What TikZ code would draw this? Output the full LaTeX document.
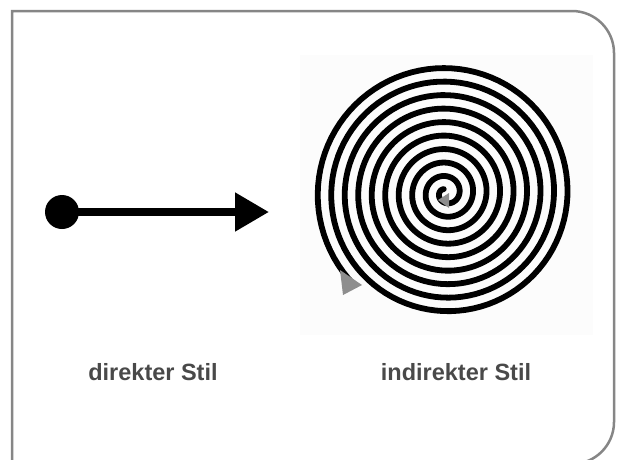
\documentclass[tikz,border=0pt]{standalone}
\usepackage{fontspec}
\setmainfont{Liberation Sans}
\usetikzlibrary{arrows.meta}
\definecolor{framegray}{HTML}{868686}
\definecolor{textgray}{HTML}{494949}
\definecolor{tipgray}{HTML}{8E8E8E}
\tikzset{
  dot/.style={circle,fill=black,inner sep=0pt,minimum size=34pt},
  caption/.style={anchor=base,text=textgray,font=\bfseries\fontsize{23.5}{27}\selectfont},
  spiral/.style={line width=5.8pt,line cap=round,line join=round}
}

\begin{document}
\begin{tikzpicture}[x=1pt,y=-1pt]
\useasboundingbox (0,0) rectangle (620,459);
\fill[black!1] (300,55) rectangle (593,335);
\draw[framegray,line width=2.5pt] (12,470)--(12,11)--(572,11) arc[start angle=-90,end angle=0,radius=42]--(614,422) arc[start angle=0,end angle=90,radius=42]--(500,464);
\node[dot] (start) at (62,212) {};
\coordinate (goal) at (269,212);
\draw[line width=8pt,-{Triangle[length=34pt,width=37pt]}] (start.center)--(goal);
\draw[spiral] plot[domain=120:3465,samples=900,variable=\t] ({446+0.0375*\t*cos(\t)},{193-0.0375*\t*sin(\t)});
\fill[tipgray] (340,270)--(362,285)--(343,295)--cycle;
\fill[tipgray] (438,200)--(449,193)--(449,208)--cycle;
\node[caption] (direct) at (153,380) {direkter Stil};
\node[caption] (indirect) at (456,380) {indirekter Stil};
\end{tikzpicture}
\end{document}
